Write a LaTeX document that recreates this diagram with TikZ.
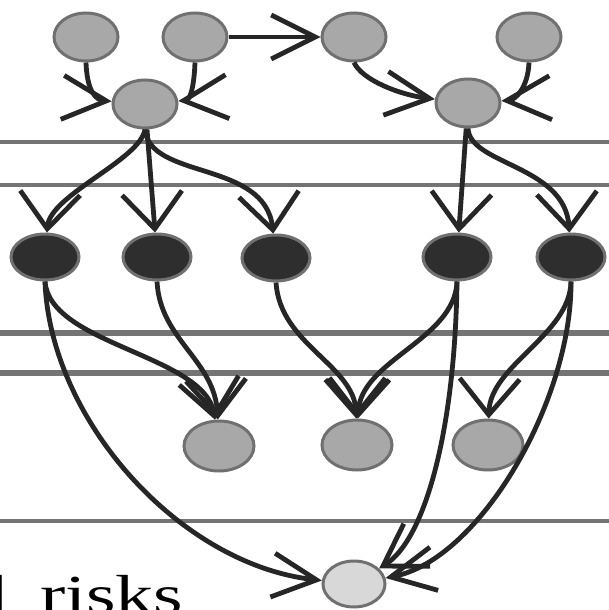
\documentclass[tikz,border=0pt]{standalone}
\usepackage{fontspec}
\setmainfont{Liberation Serif}
\usetikzlibrary{shapes.geometric,arrows.meta}
\definecolor{nodegray}{HTML}{A8A8A8}
\definecolor{ringgray}{HTML}{707070}
\definecolor{darkfill}{HTML}{2E2E2E}
\definecolor{lightfill}{HTML}{D8D8D8}
\definecolor{edgecol}{HTML}{262626}
\definecolor{rulecol}{HTML}{747474}
\tikzset{
  gnode/.style={ellipse, draw=ringgray, line width=3pt, fill=nodegray, minimum width=64pt, minimum height=48pt, inner sep=0pt},
  dnode/.style={gnode, fill=darkfill, draw=ringgray, minimum width=68pt, minimum height=46pt},
  lnode/.style={gnode, fill=lightfill, minimum width=62pt, minimum height=46pt},
  rnode/.style={gnode, minimum width=70pt, minimum height=50pt},
  linkbase/.style={draw=edgecol, line width=4.8pt},
  linkh/.style={linkbase, -{Straight Barb[length=44pt,width=44pt]}},
  linkv/.style={linkbase, -{Straight Barb[length=36pt,width=60pt]}},
  linkd/.style={linkbase, -{Straight Barb[length=40pt,width=50pt]}},
  hrule/.style={draw=rulecol, line width=3.5pt},
  hrulethick/.style={draw=rulecol, line width=6pt}
}
\begin{document}
\begin{tikzpicture}[x=1pt,y=-1pt]
\useasboundingbox (0,0) rectangle (609,610);
\clip (0,0) rectangle (609,610);
% horizontal rules
\draw[hrule] (0,142) -- (609,142);
\draw[hrule] (0,185) -- (609,185);
\draw[hrulethick] (0,333) -- (609,333);
\draw[hrulethick] (0,373) -- (609,373);
\draw[hrule] (0,521) -- (609,521);
% nodes
\node[gnode] (t1) at (86,37) {};
\node[gnode] (t2) at (195,37) {};
\node[gnode] (t3) at (354,37) {};
\node[gnode] (t4) at (529,37) {};
\node[gnode] (a) at (145,104) {};
\node[gnode] (b) at (468,103) {};
\node[dnode] (d1) at (45,257) {};
\node[dnode] (d2) at (157,257) {};
\node[dnode] (d3) at (276,258) {};
\node[dnode] (d4) at (457,257) {};
\node[dnode] (d5) at (571,257) {};
\node[rnode] (r1) at (219,446) {};
\node[rnode] (r2) at (357,445) {};
\node[rnode] (r3) at (488,445) {};
\node[lnode] (z) at (354,584) {};
% text
\node[anchor=base west, inner sep=0pt] (txt) at (-31,613) {\scalebox{1.38}[1]{\fontsize{55}{60}\selectfont d\hspace{23.9pt}risks}};
% edges
\draw[linkh] (t1.south) .. controls (87,90) and (95,100) .. (a);
\draw[linkh] (t2.south) .. controls (194,88) and (190,100) .. (a);
\draw[linkh] (t2) -- (t3);
\draw[linkh] (t3.south) .. controls (362,80) and (400,95) .. (b);
\draw[linkh] (t4.south) .. controls (528,88) and (515,100) .. (b);
\draw[linkv] (a.south) .. controls (140,160) and (50,195) .. (d1);
\draw[linkv] (a) -- (d2);
\draw[linkv] (a.south) .. controls (150,180) and (265,160) .. (d3);
\draw[linkv] (b) -- (d4);
\draw[linkv] (b.south) .. controls (470,165) and (565,165) .. (d5);
\draw[linkv] (d1.south) .. controls (50,345) and (205,355) .. (r1);
\draw[linkv] (d2.south) .. controls (160,340) and (215,360) .. (r1);
\draw[linkh] (d1.south) .. controls (50,420) and (180,565) .. (z);
\draw[linkv] (d3.south) .. controls (280,345) and (355,365) .. (r2);
\draw[linkv] (d4.south) .. controls (455,340) and (360,360) .. (r2);
\draw[linkd] (d4.south) .. controls (455,430) and (425,540) .. (z);
\draw[linkv] (d5.south) .. controls (570,335) and (490,365) .. (r3);
\draw[linkh] (d5.south) .. controls (572,400) and (480,560) .. (z);
\end{tikzpicture}
\end{document}
